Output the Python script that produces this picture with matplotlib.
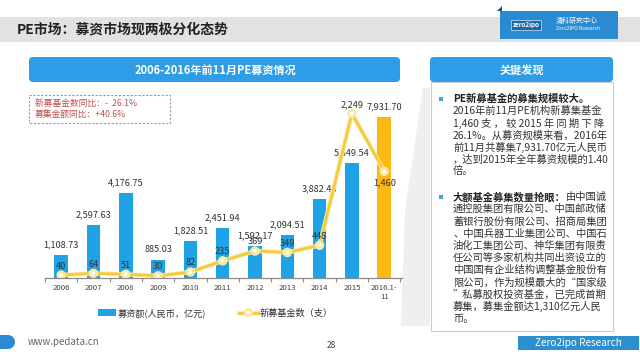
import matplotlib.pyplot as plt
import matplotlib.patheffects as pe
from matplotlib.patches import Rectangle, FancyBboxPatch, Polygon, Circle
import numpy as np

plt.rcParams['font.family'] = ['Noto Sans CJK SC', 'DejaVu Sans']

# data
years = ['2006', '2007', '2008', '2009', '2010', '2011', '2012', '2013',
         '2014', '2015', '2016.1-\n11']
amounts = [1108.73, 2597.63, 4176.75, 885.03, 1828.51, 2451.94, 1592.17,
           2094.51, 3882.43, 5649.54, 7931.70]
funds = [40, 64, 51, 30, 82, 235, 369, 349, 448, 2249, 1460]

title = 'PE市场：募资市场现两极分化态势'
chart_title = '2006-2016年前11月PE募资情况'
note_lines = ['新募基金数同比：-  26.1%', '募集金额同比：+40.6%']
bar_name = '募资额(人民币，亿元)'
line_name = '新募基金数（支）'

para1_head = 'PE新募基金的募集规模较大。'
para1 = ['2016年前11月PE机构新募集基金',
         '1,460 支 ， 较 2015 年 同 期 下 降',
         '26.1%。从募资规模来看，2016年',
         '前11月共募集7,931.70亿元人民币',
         '，达到2015年全年募资规模的1.40',
         '倍。']
para2_head = '大额基金募集数量抢眼：'
para2_first = '由中国诚'
para2 = ['通控股集团有限公司、中国邮政储',
         '蓄银行股份有限公司、招商局集团',
         '、中国兵器工业集团公司、中国石',
         '油化工集团公司、神华集团有限责',
         '任公司等多家机构共同出资设立的',
         '中国国有企业结构调整基金股份有',
         '限公司，作为规模最大的“国家级',
         '”私募股权投资基金，已完成首期',
         '募集，募集金额达1,310亿元人民',
         '币。']

BLUE = '#1ea4e6'
GOLD = '#fdb813'
LINE = '#f3cb3c'
HEAD = '#2c9de6'

fig = plt.figure(figsize=(6.4, 3.6), dpi=100)

# background layer in pixel coordinates
bg = fig.add_axes([0, 0, 1, 1])
bg.set_xlim(0, 640)
bg.set_ylim(360, 0)
bg.axis('off')
bg.set_zorder(0)

# title band + logo
bg.add_patch(Rectangle((0, 17), 640, 25, color='#e2e2e2', lw=0))
bg.text(17, 30, title, fontsize=10, fontweight='bold', color='#222222', va='center')
bg.add_patch(Rectangle((500, 11), 118, 28, color='#2a8ad2', lw=0))
bg.add_patch(Polygon([(497, 11), (502, 6), (502, 11)], color='#1d4f7a', lw=0))
bg.text(526, 25, 'zero2ipo', fontsize=4.5, color='white', fontweight='bold',
        ha='center', va='center',
        bbox=dict(boxstyle='square,pad=0.25', fc='#1b6aa8', ec='white', lw=0.4))
bg.text(556, 21, '清科研究中心', fontsize=5, color='white', va='center')
bg.text(556, 29, 'Zero2IPO Research', fontsize=3.6, color='white', va='center')

# header bars
bg.add_patch(FancyBboxPatch((29, 57), 371, 25, boxstyle='round,pad=0,rounding_size=4',
                            fc=HEAD, ec='none'))
bg.text(215, 70, chart_title, fontsize=8, fontweight='bold', color='white',
        ha='center', va='center')
bg.add_patch(FancyBboxPatch((430, 57), 183, 25, boxstyle='round,pad=0,rounding_size=4',
                            fc=HEAD, ec='none'))
bg.text(521.5, 70, '关键发现', fontsize=8, fontweight='bold', color='white',
        ha='center', va='center')

# page-curl shadow between chart and panel
bg.add_patch(Polygon([(423, 88), (430, 88), (430, 326), (401, 326), (405, 210)],
                     color='#efefef', lw=0))

# dashed note box
bg.add_patch(Rectangle((29, 95), 141, 28, fill=False, ls=(0, (2, 1.5)),
                       ec='#9a9a9a', lw=0.8))
for i, s in enumerate(note_lines):
    bg.text(35, 103 + i * 11, s, fontsize=6.3, color='#c0504d', va='center')

# right panel
bg.add_patch(Rectangle((431, 82), 182, 249, fc='white', ec='#cccccc', lw=0.8))
fs = 7.4
step = 12.2
x0 = 453
y = 99
bg.add_patch(Rectangle((439, y - 2), 4, 4, color='#4aa3d0', lw=0))
bg.text(x0, y, para1_head, fontsize=fs, fontweight='bold', color='#222222', va='center')
for s in para1:
    y += step
    bg.text(x0, y, s, fontsize=fs, color='#333333', va='center')
y = 197
bg.add_patch(Rectangle((439, y - 2), 4, 4, color='#4aa3d0', lw=0))
head = bg.text(x0, y, para2_head, fontsize=fs, fontweight='bold', color='#222222',
               va='center')
bg.annotate(para2_first, xy=(1, 0.5), xycoords=head, va='center', ha='left',
            fontsize=fs, color='#333333')
for s in para2:
    y += step
    bg.text(x0, y, s, fontsize=fs, color='#333333', va='center')

# footer
bg.add_patch(Rectangle((0, 335), 8, 14, color='#2a8ad2', lw=0))
bg.add_patch(Circle((8, 342), 7, color='#2a8ad2', lw=0))
bg.text(28, 342, 'www.pedata.cn', fontsize=7, color='#666666', va='center')
bg.text(331, 346, '28', fontsize=6, color='#444444', va='center', ha='center')
bg.add_patch(Rectangle((518, 336), 121, 14, color='#2b8fd0', lw=0))
bg.text(578, 343, 'Zero2ipo Research', fontsize=7.2, color='white',
        ha='center', va='center')

# chart
ax = fig.add_axes([45 / 640, 1 - 278 / 360, 357 / 640, 178 / 360])
ax.set_zorder(1)
ax.patch.set_alpha(0)
x = np.arange(len(years))
colors = [BLUE] * (len(years) - 1) + [GOLD]
bars = ax.bar(x, amounts, width=0.42, color=colors, zorder=2)
ax.set_xlim(-0.5, 10.55)
ax.set_ylim(0, 8747)
for i, v in enumerate(amounts):
    ax.annotate(f'{v:,.2f}', (i, v), xytext=(0, 7.3), textcoords='offset points',
                ha='center', va='center', fontsize=6.6, color='#333333')

ax.set_xticks(x)
ax.set_xticklabels(years, fontsize=5.6, color='#404040')
ax.set_xticks(np.arange(-0.5, 11, 1), minor=True)
ax.tick_params(axis='x', which='major', length=0, pad=4.5)
ax.tick_params(axis='x', which='minor', length=3, width=0.8, color='#8a8a8a')
ax.set_yticks([])
for side in ['top', 'left', 'right']:
    ax.spines[side].set_visible(False)
ax.spines['bottom'].set_color('#8a8a8a')
ax.spines['bottom'].set_linewidth(0.9)

ax2 = ax.twinx()
ax2.set_ylim(0, 2435)
line, = ax2.plot(x, funds, color=LINE, lw=2, marker='o', ms=3.6, mfc='white',
                 mec='#f8e08a', mew=0.6, zorder=3,
                 path_effects=[pe.Stroke(linewidth=3.2, foreground='#fbeaa8'), pe.Normal()])
ax2.set_yticks([])
for side in ['top', 'left', 'right', 'bottom']:
    ax2.spines[side].set_visible(False)
for i, v in enumerate(funds):
    dy = -8 if i == len(funds) - 1 else 6.5
    ax2.annotate(f'{v:,}', (i, v), xytext=(0, dy), textcoords='offset points',
                 ha='center', va='center', fontsize=6.6, color='#333333')

fig.legend([bars, line], [bar_name, line_name], loc='center',
           bbox_to_anchor=(215 / 640, 1 - 313 / 360), ncol=2, frameon=False,
           fontsize=6.6, columnspacing=3.6, handlelength=2.0, handletextpad=0.2,
           labelcolor='#333333')

fig.savefig('out.png', dpi=100)
